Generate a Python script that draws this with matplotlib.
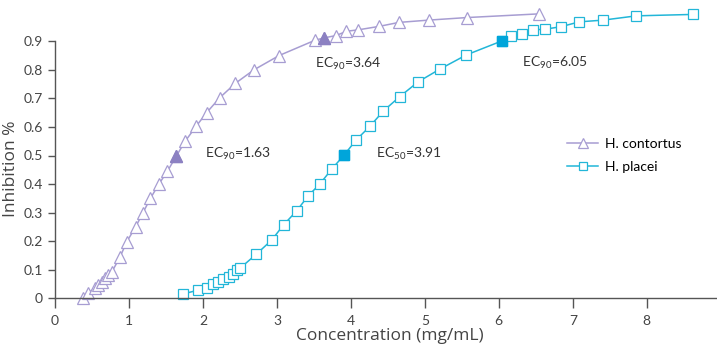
import matplotlib.pyplot as plt

# H. contortus (triangles)
hc_conc = [0.38, 0.45, 0.54, 0.585, 0.63, 0.675, 0.72, 0.77, 0.88, 0.97, 1.09, 1.19, 1.29,
           1.405, 1.52, 1.64, 1.76, 1.91, 2.05, 2.23, 2.44, 2.69, 3.03, 3.51, 3.64, 3.80,
           3.94, 4.10, 4.38, 4.65, 5.05, 5.57, 6.55]
hc_inh = [0.0, 0.02, 0.035, 0.045, 0.057, 0.07, 0.08, 0.093, 0.145, 0.198, 0.25, 0.30, 0.35,
          0.40, 0.445, 0.498, 0.55, 0.603, 0.65, 0.703, 0.753, 0.80, 0.85, 0.903, 0.912, 0.92,
          0.935, 0.94, 0.952, 0.966, 0.974, 0.983, 0.996]

# H. placei (squares)
hp_conc = [1.73, 1.94, 2.05, 2.14, 2.21, 2.27, 2.35, 2.40, 2.46, 2.50, 2.72, 2.93, 3.09,
           3.27, 3.42, 3.58, 3.74, 3.91, 4.07, 4.26, 4.44, 4.66, 4.91, 5.20, 5.56, 6.05,
           6.16, 6.31, 6.46, 6.62, 6.84, 7.09, 7.41, 7.86, 8.63]
hp_inh = [0.015, 0.029, 0.037, 0.049, 0.056, 0.066, 0.076, 0.085, 0.099, 0.105, 0.154, 0.204,
          0.257, 0.307, 0.358, 0.40, 0.452, 0.502, 0.554, 0.603, 0.656, 0.706, 0.758, 0.802,
          0.852, 0.902, 0.918, 0.924, 0.94, 0.942, 0.951, 0.968, 0.974, 0.989, 0.994]

# highlighted EC points: (conc, inhibition)
hc_ec = ([1.64, 3.64], [0.498, 0.912])
hp_ec = ([3.91, 6.05], [0.502, 0.902])

ann_text = [r"EC$_{90}$=1.63", r"EC$_{90}$=3.64", r"EC$_{50}$=3.91", r"EC$_{90}$=6.05"]
ann_pos = [(2.03, 0.505), (3.51, 0.822), (4.34, 0.505), (6.31, 0.825)]

LAV = "#a79dd2"
LAV_DARK = "#8c81c2"
CYAN = "#22b6d8"
CYAN_DARK = "#00a5da"
GREY = "#555555"

plt.rcParams["font.family"] = ["Lato", "DejaVu Sans"]
plt.rcParams["mathtext.fontset"] = "custom"
plt.rcParams["mathtext.rm"] = "Lato"

fig = plt.figure(figsize=(7.17, 3.51), dpi=100)
ax = fig.add_axes([55 / 717, 52.7 / 351, 662 / 717, 285.6 / 351])

ax.plot(hc_conc, hc_inh, color=LAV, lw=1.1, marker="^", ms=8.5, mfc="white",
        mec=LAV, mew=0.9, clip_on=False, label="H. contortus")
ax.plot(hp_conc, hp_inh, color=CYAN, lw=1.1, marker="s", ms=7.5, mfc="white",
        mec=CYAN, mew=0.9, clip_on=False, label="H. placei")
ax.plot(*hc_ec, ls="none", marker="^", ms=8.5, color=LAV_DARK, clip_on=False)
ax.plot(*hp_ec, ls="none", marker="s", ms=7.5, color=CYAN_DARK, clip_on=False)

for (x, y), txt in zip(ann_pos, ann_text):
    ax.text(x, y, txt, fontsize=10, color="#333333", ha="left", va="center")

ax.set_xlim(0, 8.95)
ax.set_ylim(0, 1.0)
ax.set_xticks(range(0, 9))
ax.set_yticks([0, 0.1, 0.2, 0.3, 0.4, 0.5, 0.6, 0.7, 0.8, 0.9])
ax.set_yticklabels(["0", "0.1", "0.2", "0.3", "0.4", "0.5", "0.6", "0.7", "0.8", "0.9"])
ax.spines["top"].set_visible(False)
ax.spines["right"].set_visible(False)
ax.spines["left"].set_bounds(0, 0.9)
for s in ("left", "bottom"):
    ax.spines[s].set_color(GREY)
    ax.spines[s].set_linewidth(1.0)
ax.tick_params(axis="x", length=7, width=1.0, color=GREY, labelcolor="#444444",
               labelsize=10, pad=5)
ax.tick_params(axis="y", length=5, width=1.0, color=GREY, labelcolor="#444444",
               labelsize=10, pad=4)

ax.set_xlabel("Concentration (mg/mL)", fontsize=12.5, color="#444444",
              family=["Open Sans", "DejaVu Sans"])
ax.xaxis.set_label_coords(0.506, -0.105)
ax.set_ylabel("Inhibition %", fontsize=12.5, color="#444444",
              family=["Open Sans", "DejaVu Sans"])
ax.yaxis.set_label_coords(-0.055, 0.455)

ax.legend(loc="upper left", bbox_to_anchor=(0.755, 0.605), frameon=False,
          fontsize=10, handlelength=2.2, labelspacing=0.8, handletextpad=0.5,
          markerscale=0.85)

fig.savefig("out.png", dpi=100)
